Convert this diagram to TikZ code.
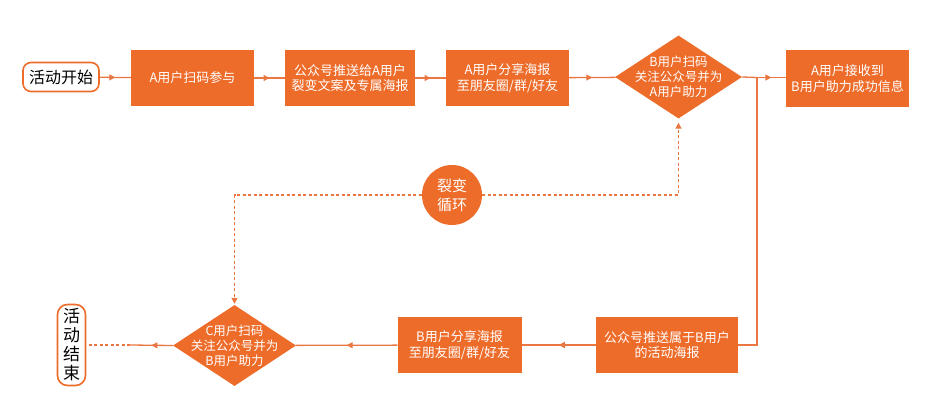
\documentclass[tikz,border=0pt]{standalone}
\usepackage{fontspec}
\setmainfont{Noto Sans CJK SC}
\definecolor{boxorange}{RGB}{238,108,42}
\definecolor{lineorange}{RGB}{234,118,66}
\usetikzlibrary{arrows.meta, shapes.geometric, decorations.markings}

\begin{document}
\begin{tikzpicture}[
  x=1pt, y=-1pt,
  line/.style={line width=1.3pt, lineorange},
  arrow/.style={line, postaction={decorate},
    decoration={markings, mark=at position 0.5 with {\arrow{Triangle[length=6pt, width=6pt]}}}},
  dotline/.style={line, dash pattern=on 3pt off 2.5pt},
  nd/.style={fill=boxorange, text=white, inner sep=0pt, align=center,
             minimum width=123pt, minimum height=56pt,
             font=\fontsize{13}{15.5}\selectfont},
  dec/.style={diamond, fill=boxorange, inner sep=0pt, minimum width=125pt, minimum height=82pt},
  dtext/.style={text=white, align=center, inner sep=0pt, font=\fontsize{12.5}{15}\selectfont},
  term/.style={draw=boxorange, line width=1.6pt, fill=white, rounded corners=8pt,
               inner sep=0pt, align=center},
]
\useasboundingbox (0,0) rectangle (927,404);

% top row
\node[term, minimum width=76pt, minimum height=29pt, font=\fontsize{16}{19}\selectfont] (start) at (61,77) {活动开始};
\node[nd] (scanA) at (192.5,78) {A用户扫码参与};
\node[nd, minimum width=130pt] (pushA) at (350,78) {公众号推送给A用户\\裂变文案及专属海报};
\node[nd] (shareA) at (507.5,78) {A用户分享海报\\至朋友圈/群/好友};
\node[dec, minimum width=127pt, minimum height=83pt] (helpA) at (678.5,77) {};
\node[dtext] (helpAtext) at (helpA) {B用户扫码\\关注公众号并为\\A用户助力};
\node[nd, minimum height=57pt] (notifyA) at (847.5,78.5) {A用户接收到\\B用户助力成功信息};
\coordinate (branch) at (757,77.5);

% bottom row
\node[nd, minimum width=142pt] (pushB) at (667,345) {公众号推送属于B用户\\的活动海报};
\node[nd, minimum width=124pt] (shareB) at (459.5,345) {B用户分享海报\\至朋友圈/群/好友};
\node[dec, minimum width=123pt, minimum height=81pt] (helpB) at (234.5,345.5) {};
\node[dtext] (helpBtext) at (helpB) {C用户扫码\\关注公众号并为\\B用户助力};
\node[term, minimum width=28pt, minimum height=81pt, rounded corners=10pt, font=\fontsize{17}{19}\selectfont] (finish) at (71.5,345) {活\\动\\结\\束};
\coordinate (stop) at (130,345);

% loop
\node[circle, fill=boxorange, text=white, inner sep=0pt, minimum size=60pt, align=center,
      font=\fontsize{15}{19}\selectfont] (loop) at (452,195) {裂变\\循环};

\draw[arrow] (start) -- (scanA);
\draw[arrow] (scanA) -- (pushA);
\draw[arrow] (pushA) -- (shareA);
\draw[arrow] (shareA) -- (helpA);
\draw[line] (helpA.east) -- (branch);
\draw[arrow] (branch) -- (branch -| notifyA.west);
\draw[line] (branch) |- (pushB.east);
\draw[arrow] (pushB) -- (shareB);
\draw[arrow] (shareB) -- (helpB);
\draw[arrow] (helpB.west) -- (stop);
\draw[dotline] (stop) -- (finish);
\draw[dotline, -{Triangle[length=6pt, width=6pt]}, shorten >=4pt] (loop.east) -| (helpA.south);
\draw[dotline, -{Triangle[length=6pt, width=6pt]}, shorten >=1pt] (loop.west) -| (helpB.north);
\end{tikzpicture}
\end{document}
